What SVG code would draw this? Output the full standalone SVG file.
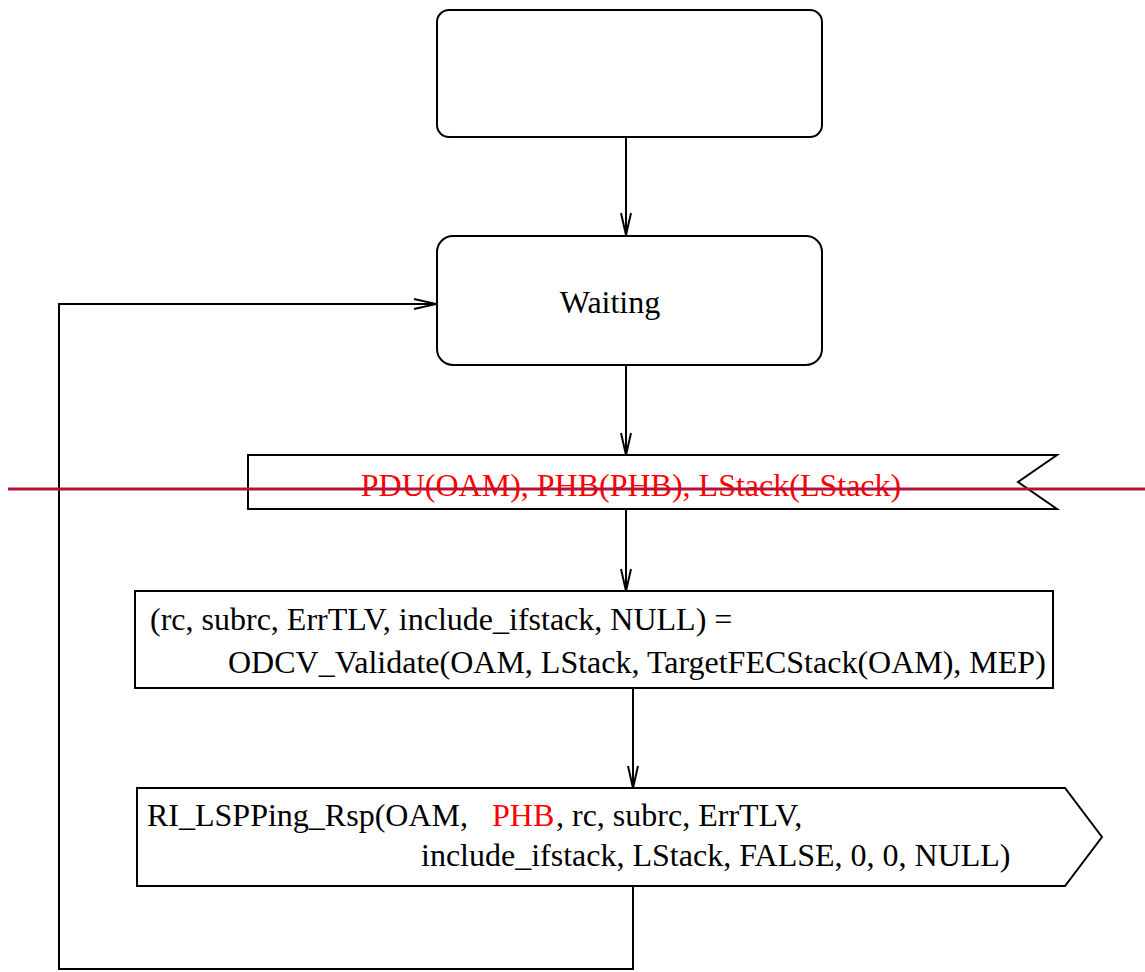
<svg xmlns="http://www.w3.org/2000/svg" width="1145" height="972" viewBox="0 0 1145 972">
<style>
.s{fill:#fff;stroke:#000;stroke-width:2}
.c{fill:none;stroke:#000;stroke-width:2}
.t{font-family:"Liberation Serif","Times New Roman",serif;font-size:32px;fill:#000}
.r{fill:#f00}
</style>
<defs>
<marker id="a" markerUnits="userSpaceOnUse" markerWidth="26" markerHeight="14" viewBox="-24 -7 26 14" refX="0" refY="0" orient="auto">
<path d="M-22,-5 L0,0 L-22,5" fill="none" stroke="#000" stroke-width="2"/>
</marker>
</defs>
<rect width="1145" height="972" fill="#fff"/>
<g id="connectors">
<line class="c" x1="626" y1="137" x2="626" y2="235" marker-end="url(#a)"/>
<line class="c" x1="626" y1="365" x2="626" y2="455" marker-end="url(#a)"/>
<line class="c" x1="626" y1="509" x2="626" y2="591" marker-end="url(#a)"/>
<line class="c" x1="633" y1="688" x2="633" y2="788" marker-end="url(#a)"/>
<polyline class="c" points="633,886 633,969 59,969 59,304 436,304" marker-end="url(#a)"/>
</g>
<g id="start">
<rect class="s" x="437" y="10" width="385" height="127" rx="12"/>
</g>
<g id="waiting">
<rect class="s" x="437" y="236" width="385" height="129" rx="16"/>
<text class="t" x="610" y="313" text-anchor="middle">Waiting</text>
</g>
<g id="input">
<polygon class="s" points="248,455 1057,455 1018,482 1057,509 248,509"/>
<text class="t r" x="631" y="496" text-anchor="middle">PDU(OAM), PHB(PHB), LStack(LStack)</text>
</g>
<g id="task">
<rect class="s" x="135" y="591" width="918" height="97"/>
<text class="t" x="150" y="630">(rc, subrc, ErrTLV, include_ifstack, NULL) =</text>
<text class="t" x="228" y="673">ODCV_Validate(OAM, LStack, TargetFECStack(OAM), MEP)</text>
</g>
<g id="output">
<polygon class="s" points="137,788 1065,788 1102,837 1065,886 137,886"/>
<text class="t" x="147" y="826">RI_LSPPing_Rsp(OAM,</text>
<text class="t r" x="492" y="826">PHB</text>
<text class="t" x="556" y="826">, rc, subrc, ErrTLV,</text>
<text class="t" x="421" y="866">include_ifstack, LStack, FALSE, 0, 0, NULL)</text>
</g>
<line x1="8" y1="489" x2="1145" y2="489" stroke="#b5123a" stroke-width="3"/>
</svg>
